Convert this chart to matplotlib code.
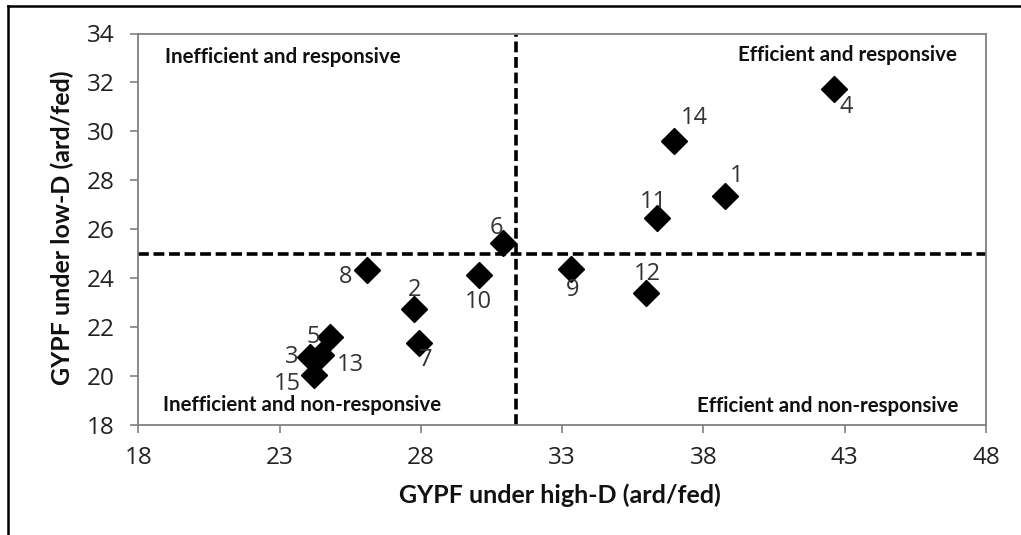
import matplotlib
matplotlib.use("Agg")
import matplotlib.pyplot as plt
from matplotlib.lines import Line2D

# ---- data ----
genotypes = ["1", "2", "3", "4", "5", "6", "7", "8", "9", "10", "11", "12", "13", "14", "15"]
gypf_high = [38.75, 27.76, 24.07, 42.62, 24.78, 30.91, 27.94, 26.11, 33.31, 30.05, 36.36, 35.98, 24.45, 36.96, 24.22]
gypf_low = [27.36, 22.73, 20.77, 31.72, 21.58, 25.43, 21.36, 24.34, 24.36, 24.13, 26.47, 23.38, 20.86, 29.61, 20.04]
mean_high = 31.35
mean_low = 25.0
x_ticks = [18, 23, 28, 33, 38, 43, 48]
y_ticks = [18, 20, 22, 24, 26, 28, 30, 32, 34]
quadrant_labels = ["Inefficient and responsive", "Efficient and responsive",
                   "Inefficient and non-responsive", "Efficient and non-responsive"]

# label offsets in pixels (dx, dy up)
label_offsets = {
    "1": (12, 20), "2": (0, 19), "3": (-18, 0), "4": (12, -18), "5": (-17, 0),
    "6": (-7, 15), "7": (7, -17), "8": (-22, -7), "9": (2, -21), "10": (0, -27),
    "11": (-4, 16), "12": (1, 19), "13": (30, -10), "14": (20, 23), "15": (-27, -9),
}

W, H = 1021, 535
fig = plt.figure(figsize=(W / 100, H / 100), dpi=100)
ax = fig.add_axes([138.3 / W, 1 - 425 / H, (986 - 138.3) / W, (425 - 33.5) / H])

ax.plot(gypf_high, gypf_low, linestyle="none", marker="D", markersize=13,
        color="black", zorder=3)

num_font = "Open Sans"
for g, xv, yv in zip(genotypes, gypf_high, gypf_low):
    dx, dy = label_offsets[g]
    ax.annotate(g, (xv, yv), xytext=(dx, dy), textcoords="offset pixels",
                ha="center", va="center", fontsize=17, color="#333333",
                family=num_font, zorder=4)

dash = (0, (3, 1.3))
ax.axhline(mean_low, color="black", lw=2.6, ls=dash, zorder=2)
ax.axvline(mean_high, color="black", lw=2.6, ls=dash, zorder=2)

ax.set_xlim(18, 48)
ax.set_ylim(18, 34)
ax.set_xticks(x_ticks)
ax.set_yticks(y_ticks)
ax.set_xticklabels([str(t) for t in x_ticks], family=num_font, fontsize=17.5)
ax.set_yticklabels([str(t) for t in y_ticks], family=num_font, fontsize=17.5)
ax.tick_params(direction="out", length=6, width=1.2, color="#808080",
               labelcolor="#222222")
ax.tick_params(axis="y", pad=11)
ax.tick_params(axis="x", pad=9)
for s in ax.spines.values():
    s.set_color("#808080")
    s.set_linewidth(1.3)

bold_font = "Lato"
qa = dict(fontsize=14.8, fontweight="bold", family=bold_font, color="#111111",
          va="center", transform=ax.transAxes)
ax.text((165 - 138.3) / (986 - 138.3), (425 - 57) / (425 - 33.5), quadrant_labels[0], ha="left", **qa)
ax.text((957 - 138.3) / (986 - 138.3), (425 - 55) / (425 - 33.5), quadrant_labels[1], ha="right", **qa)
ax.text((163 - 138.3) / (986 - 138.3), (425 - 405) / (425 - 33.5), quadrant_labels[2], ha="left", **qa)
ax.text((958 - 138.3) / (986 - 138.3), (425 - 406.5) / (425 - 33.5), quadrant_labels[3], ha="right", **qa)

fig.text(560 / W, 1 - 495 / H, "GYPF under high-D (ard/fed)", ha="center", va="center",
         fontsize=18, fontweight="bold", family=bold_font, color="#111111")
fig.text(62 / W, 1 - 228 / H, "GYPF under low-D (ard/fed)", ha="center", va="center",
         rotation=90, fontsize=18, fontweight="bold", family=bold_font, color="#111111")

# figure frame lines (top and left)
fig.add_artist(Line2D([7.5 / W, 1.0], [1 - 5.5 / H, 1 - 5.5 / H], color="black", lw=1.8,
                      transform=fig.transFigure))
fig.add_artist(Line2D([7.5 / W, 7.5 / W], [0, 1 - 5.5 / H], color="black", lw=1.8,
                      transform=fig.transFigure))

fig.savefig("out.png", dpi=100)
